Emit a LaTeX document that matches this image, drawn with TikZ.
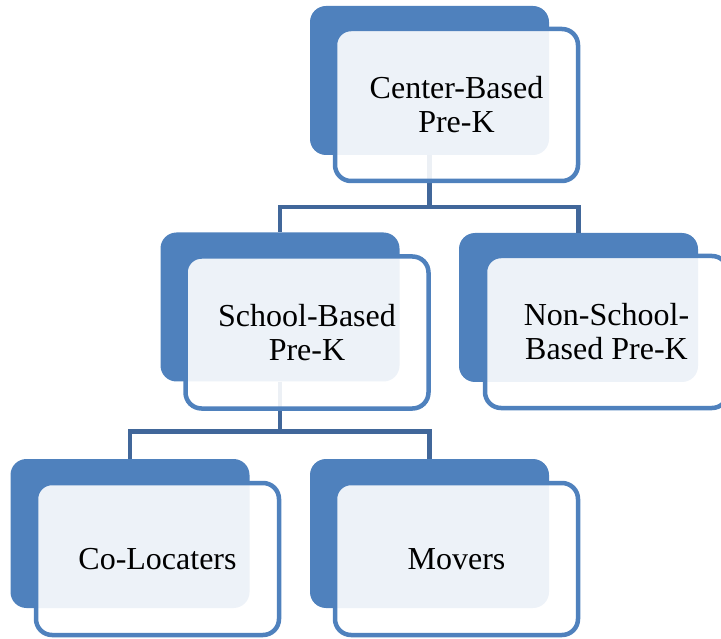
\documentclass[tikz,border=0pt]{standalone}
\usepackage{fontspec}
\setmainfont{Liberation Serif}
\definecolor{accent}{RGB}{79,129,189}
\definecolor{linkc}{RGB}{65,103,154}
\tikzset{
 back/.style={fill=accent, rounded corners=16pt, minimum width=239pt, minimum height=149pt, inner sep=0pt, draw=none},
 front/.style={draw=accent, line width=4.5pt, fill=white, fill opacity=0.9, text opacity=1, rounded corners=16pt, minimum width=243pt, minimum height=152pt, align=center, font=\fontsize{32}{34}\selectfont, inner sep=0pt},
 link/.style={draw=linkc, line width=4.5pt}
}
\begin{document}
\begin{tikzpicture}[x=1pt,y=-1pt]
\useasboundingbox (0,0) rectangle (721,639);
% back panels
\node[back] (bt) at (429.5,80.5) {};
\node[back] (bs) at (280,307) {};
\node[back] (bn) at (578.5,307.5) {};
\node[back] (bc) at (130,533.5) {};
\node[back] (bm) at (429.5,533.5) {};
% connectors
\draw[link] (bt.south) -- ++(0,52) -| (bs.north);
\draw[link] (bt.south) -- ++(0,52) -| (bn.north);
\draw[link] (bs.south) -- ++(0,50) -| (bc.north);
\draw[link] (bs.south) -- ++(0,50) -| (bm.north);
% front panels
\node[front] (t) at (456.5,105) {Center-Based\\Pre-K};
\node[front] (s) at (307,332.5) {School-Based\\Pre-K};
\node[front] (n) at (606.5,332) {Non-School-\\Based Pre-K};
\node[front] (c) at (157.5,559) {Co-Locaters};
\node[front] (m) at (456.5,559) {Movers};
\end{tikzpicture}
\end{document}
